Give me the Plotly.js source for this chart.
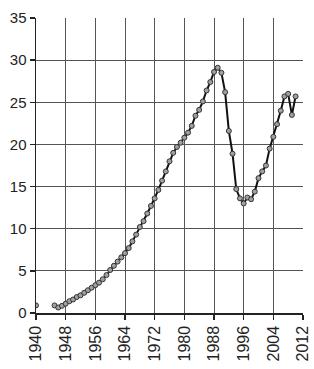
<!DOCTYPE html>
<html>
<head>
<meta charset="utf-8">
<script src="https://cdn.plot.ly/plotly-3.0.1.min.js"></script>
<style>html,body{margin:0;padding:0;background:#fff;}#chart{width:314px;height:369px;}</style>
</head>
<body>
<div id="chart"></div>
<script>
const years = [1940,1941,1942,1943,1944,1945,1946,1947,1948,1949,1950,1951,1952,1953,1954,1955,1956,1957,1958,1959,
  1960,1961,1962,1963,1964,1965,1966,1967,1968,1969,1970,1971,1972,1973,1974,1975,1976,1977,1978,1979,
  1980,1981,1982,1983,1984,1985,1986,1987,1988,1989,1990,1991,1992,1993,1994,1995,1996,1997,1998,1999,
  2000,2001,2002,2003,2004,2005,2006,2007,2008,2009,2010];
const values = [0.9,null,null,null,null,0.9,0.65,0.85,1.1,1.4,1.6,1.9,2.1,2.4,2.7,3.0,3.3,3.6,4.0,4.5,
  5.1,5.6,6.1,6.6,7.1,7.7,8.5,9.3,10.2,10.9,11.8,12.7,13.6,14.6,15.7,16.8,18.0,19.0,19.7,20.2,
  20.8,21.4,22.2,23.4,24.1,25.1,26.4,27.4,28.6,29.1,28.5,26.2,21.6,18.9,14.7,13.6,13.0,13.7,13.5,14.4,
  16.0,16.8,17.5,19.5,20.9,22.4,24.0,25.7,26.0,23.5,25.7];
const xTicks = [1940,1948,1956,1964,1972,1980,1988,1996,2004,2012];
const yTicks = [0,5,10,15,20,25,30,35];

const trace = {
  x: years, y: values, type: 'scatter', mode: 'lines+markers',
  connectgaps: false,
  line: {color: '#111', width: 2},
  marker: {size: 5, color: '#a0a0a0', line: {color: '#333', width: 1}},
  hoverinfo: 'skip'
};
const font = {family: 'Liberation Sans, Arial, sans-serif', size: 15, color: '#222'};
const xfont = {family: 'Liberation Sans, Arial, sans-serif', size: 16, color: '#222'};
const layout = {
  width: 314, height: 369,
  margin: {l: 36, r: 11, t: 18, b: 56},
  paper_bgcolor: '#fff', plot_bgcolor: '#fff',
  showlegend: false,
  font: font,
  xaxis: {
    range: [1940, 2012], tickvals: xTicks, ticktext: xTicks.map(String),
    tickangle: -90, ticks: 'outside', ticklen: 5, tickwidth: 1.5, tickcolor: '#222',
    showgrid: true, gridcolor: '#555', gridwidth: 1,
    showline: true, linecolor: '#222', linewidth: 1.5,
    zeroline: false, tickfont: xfont, fixedrange: true
  },
  yaxis: {
    range: [0, 35], tickvals: yTicks, ticktext: yTicks.map(String),
    ticks: 'outside', ticklen: 5, tickwidth: 1.5, tickcolor: '#222',
    showgrid: true, gridcolor: '#555', gridwidth: 1,
    showline: true, linecolor: '#222', linewidth: 1.5,
    zeroline: false, tickfont: font, fixedrange: true
  }
};
Plotly.newPlot('chart', [trace], layout, {displayModeBar: false, staticPlot: true});
</script>
</body>
</html>
